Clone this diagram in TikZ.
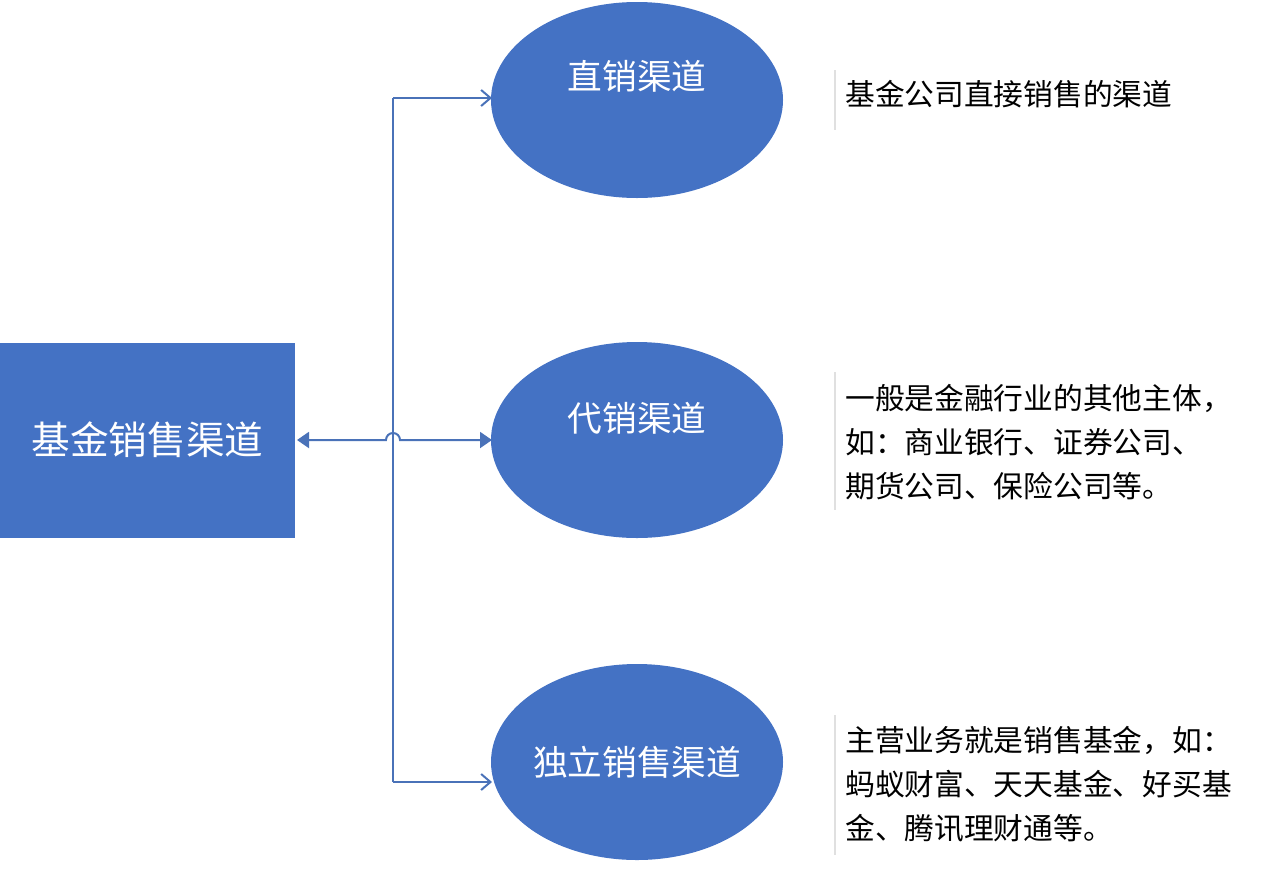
\documentclass[tikz,border=0pt]{standalone}
\usepackage{fontspec}
\newfontfamily\cjk{Noto Sans CJK SC}
\usetikzlibrary{arrows.meta,shapes.geometric}
\definecolor{bl}{HTML}{4472C4}
\definecolor{ln}{HTML}{4A72B8}
\begin{document}
\begin{tikzpicture}[x=0.75pt,y=-0.75pt,
  ell/.style={ellipse,fill=bl,draw=none,minimum width=219pt,minimum height=147pt,inner sep=0},
  elltext/.style={text=white,font=\cjk\fontsize{26}{30}\selectfont,inner sep=0},
  conn/.style={draw=ln,line width=1.5pt},
  desc/.style={anchor=north west,align=left,font=\cjk\fontsize{22.3}{33}\selectfont,inner sep=0},
  bar/.style={draw=black!12,line width=0.8pt}]
\useasboundingbox (0,0) rectangle (1280,882);
\fill[bl] (0,343) rectangle (295,538);
\node[text=white,font=\cjk\fontsize{29}{34}\selectfont] (root) at (147.5,440) {基金销售渠道};
\coordinate (rootE) at (297,440);
\node[ell] (e1) at (637,100) {};
\node[ell] (e2) at (637,440) {};
\node[ell] (e3) at (637,762) {};
\node[elltext] (l1) at (637,76) {直销渠道};
\node[elltext] (l2) at (637,418) {代销渠道};
\node[elltext] (l3) at (637,762) {独立销售渠道};
\coordinate (t1) at (393,98);
\coordinate (t3) at (393,782);
\draw[conn,-{Straight Barb[length=7pt,width=12pt]}] (t1) -- (492,98);
\draw[conn,-{Straight Barb[length=7pt,width=12pt]}] (t3) -- (492,782);
\draw[conn] (t1) -- (t3);
\draw[conn,{Triangle[length=9pt,width=12pt]}-{Triangle[length=9pt,width=12pt]}] (rootE) -- (386,440) arc[start angle=180,end angle=360,radius=7] -- (492,440);
\draw[bar] (835,70) -- (835,130);
\draw[bar] (835,372) -- (835,510);
\draw[bar] (835,715) -- (835,855);
\node[desc] (d1) at (845,80) {基金公司直接销售的渠道};
\node[desc] (d2) at (845,384) {一般是金融行业的其他主体，\\如：商业银行、证券公司、\\期货公司、保险公司等。};
\node[desc] (d3) at (845,726) {主营业务就是销售基金，如：\\蚂蚁财富、天天基金、好买基\\金、腾讯理财通等。};
\end{tikzpicture}
\end{document}
